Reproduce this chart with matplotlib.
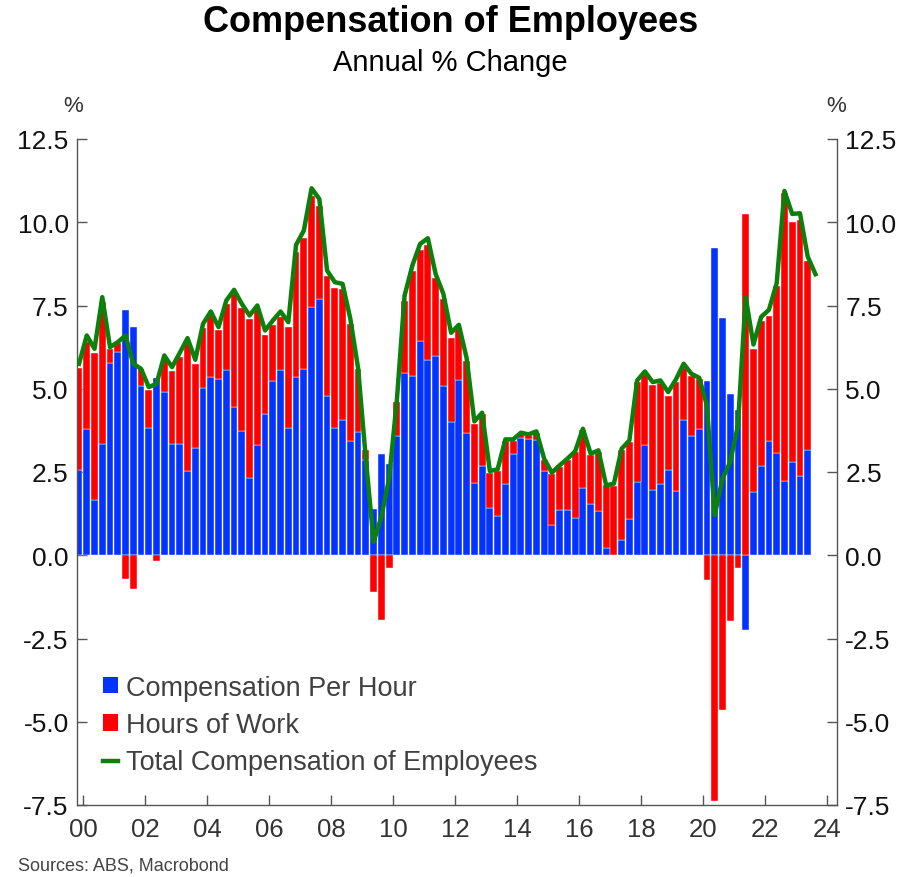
import numpy as np
import pandas as pd
import matplotlib
matplotlib.use('Agg')
import matplotlib.pyplot as plt
from matplotlib.patches import Patch
from matplotlib.lines import Line2D

plt.rcParams['font.family'] = ['Liberation Sans', 'DejaVu Sans']

# Quarterly data, 1999Q4 .. 2023Q3 (bars stop at 2023Q2)
quarters = pd.period_range('1999Q4', '2023Q3', freq='Q')

comp_per_hour = [
    2.55, 3.80, 1.67, 3.33, 5.78, 6.10, 7.37, 6.85, 5.08, 3.83,
    5.33, 4.90, 3.35, 3.33, 2.53, 3.23, 5.03, 5.35, 5.30, 5.57,
    4.45, 3.73, 2.33, 3.30, 4.25, 5.22, 5.57, 3.83, 5.35, 5.60,
    7.45, 7.70, 4.77, 3.83, 4.05, 3.43, 3.70, 2.85, 1.40, 3.05,
    2.75, 3.58, 5.48, 5.37, 6.42, 5.85, 5.97, 5.09, 4.01, 5.27,
    3.68, 2.18, 2.67, 1.43, 1.18, 2.13, 3.05, 3.52, 3.50, 3.47,
    2.52, 0.92, 1.35, 1.35, 1.12, 2.02, 1.55, 1.32, 0.22, 0.00,
    0.45, 1.10, 2.20, 3.32, 1.97, 2.15, 2.57, 1.92, 4.07, 3.58,
    3.78, 5.23, 9.24, 7.12, 4.83, 4.36, -2.25, 1.89, 2.67, 3.42,
    3.07, 2.24, 2.81, 2.38, 3.16, np.nan,
]

hours_of_work = [
    3.08, 2.60, 4.40, 4.27, 0.40, 0.27, -0.70, -1.00, 0.52, 1.12,
    -0.17, 1.00, 2.17, 2.62, 3.87, 2.51, 1.80, 1.85, 1.46, 1.98,
    3.40, 3.69, 4.75, 4.05, 2.35, 1.70, 1.58, 3.02, 3.77, 3.92,
    3.35, 2.78, 3.63, 4.19, 3.95, 3.52, 1.90, 0.32, -1.10, -1.95,
    -0.37, 1.02, 2.15, 3.18, 2.75, 3.47, 2.36, 2.61, 2.52, 1.53,
    2.15, 1.75, 1.58, 1.05, 1.35, 1.29, 0.37, 0.15, 0.12, 0.21,
    0.35, 1.51, 1.30, 1.50, 1.98, 1.73, 1.45, 1.78, 1.88, 2.08,
    2.70, 2.30, 3.00, 2.10, 3.15, 3.02, 2.22, 3.28, 1.55, 1.81,
    1.52, -0.75, -7.37, -4.65, -1.97, -0.37, 10.25, 4.31, 4.36, 3.77,
    5.03, 8.63, 7.21, 7.69, 5.68, np.nan,
]

total_comp = [
    5.75, 6.60, 6.20, 7.75, 6.25, 6.40, 6.60, 5.75, 5.60, 5.05,
    5.15, 6.00, 5.65, 6.08, 6.52, 5.87, 6.95, 7.32, 6.85, 7.65,
    7.97, 7.55, 7.20, 7.50, 6.75, 7.05, 7.32, 7.00, 9.32, 9.75,
    11.02, 10.70, 8.55, 8.20, 8.15, 7.10, 5.62, 2.90, 0.40, 1.15,
    2.30, 4.65, 7.80, 8.70, 9.35, 9.52, 8.45, 7.85, 6.68, 6.92,
    5.92, 4.02, 4.28, 2.53, 2.58, 3.48, 3.48, 3.68, 3.63, 3.72,
    2.90, 2.48, 2.70, 2.90, 3.12, 3.80, 3.05, 3.15, 2.10, 2.15,
    3.20, 3.45, 5.25, 5.52, 5.20, 5.25, 4.90, 5.28, 5.75, 5.45,
    5.33, 4.50, 1.20, 2.30, 2.80, 3.90, 7.75, 6.33, 7.16, 7.37,
    8.17, 10.94, 10.25, 10.27, 8.97, 8.44,
]

year_ticks = list(range(2000, 2025, 2))
y_ticks = [-7.5, -5.0, -2.5, 0.0, 2.5, 5.0, 7.5, 10.0, 12.5]

BLUE = '#0433FF'
RED = '#FF0000'
GREEN = '#0B800B'
AXIS = '#555555'

# mid-quarter positions in decimal years
x = np.array([p.year + (p.quarter - 1) * 0.25 + 0.125 for p in quarters])
blue = np.array(comp_per_hour)
red = np.array(hours_of_work)
# positives stack up from zero, negatives stack down from zero
red_bottom = np.where(blue * red > 0, blue, 0.0)

fig = plt.figure(figsize=(9.01, 8.78), dpi=100)
ax = fig.add_axes([77 / 901, 72 / 878, 760 / 901, 666 / 878])

w = 0.25 * 0.88
ax.bar(x, blue, width=w, color=BLUE, edgecolor='white', linewidth=0.3, zorder=2)
ax.bar(x, red, width=w, bottom=red_bottom, color=RED, edgecolor='white',
       linewidth=0.3, zorder=2)
ax.plot(x, total_comp, color=GREEN, lw=3.2, solid_joinstyle='round', zorder=3)

ax.set_xlim(1999.81, 2024.32)
ax.set_ylim(-7.5, 12.5)
ax.set_xticks(year_ticks)
ax.set_xticklabels([f'{y % 100:02d}' for y in year_ticks])
ax.set_yticks(y_ticks)
ax.set_yticklabels([f'{v:.1f}' for v in y_ticks])

for s in ['left', 'right', 'bottom']:
    ax.spines[s].set_color(AXIS)
    ax.spines[s].set_linewidth(1.0)
ax.spines['top'].set_visible(False)

ax.tick_params(axis='x', direction='in', length=7, width=1, color=AXIS,
               labelsize=18.5, labelcolor='#333333', pad=9)
ax.tick_params(axis='y', direction='in', length=7, width=1, color=AXIS,
               labelsize=19, labelcolor='#111111', pad=6,
               left=True, right=True, labelleft=True, labelright=True)

fig.text(73 / 901, 1 - 107 / 878, '%', ha='center', va='center',
         fontsize=16, color='#333333')
fig.text(836 / 901, 1 - 107 / 878, '%', ha='center', va='center',
         fontsize=16, color='#333333')

fig.text(0.5, 1 - 23 / 878, 'Compensation of Employees', ha='center',
         va='center', fontsize=26, fontweight='bold')
fig.text(0.5, 1 - 63 / 878, 'Annual % Change', ha='center', va='center',
         fontsize=21)
fig.text(18 / 901, 1 - 866 / 878, 'Sources: ABS, Macrobond', ha='left',
         va='center', fontsize=13, color='#444444')

handles = [
    Patch(facecolor=BLUE, edgecolor='none'),
    Patch(facecolor=RED, edgecolor='none'),
    Line2D([0], [0], color=GREEN, lw=3.2),
]
labels = ['Compensation Per Hour', 'Hours of Work',
          'Total Compensation of Employees']
leg = ax.legend(handles, labels, loc='upper left',
                bbox_to_anchor=(0.02, 0.212), frameon=False, fontsize=19.5,
                handlelength=0.55, handleheight=0.55, handletextpad=0.3,
                labelspacing=0.42, borderaxespad=0)
for t in leg.get_texts():
    t.set_color('#404040')

fig.savefig('out.png', dpi=100)
